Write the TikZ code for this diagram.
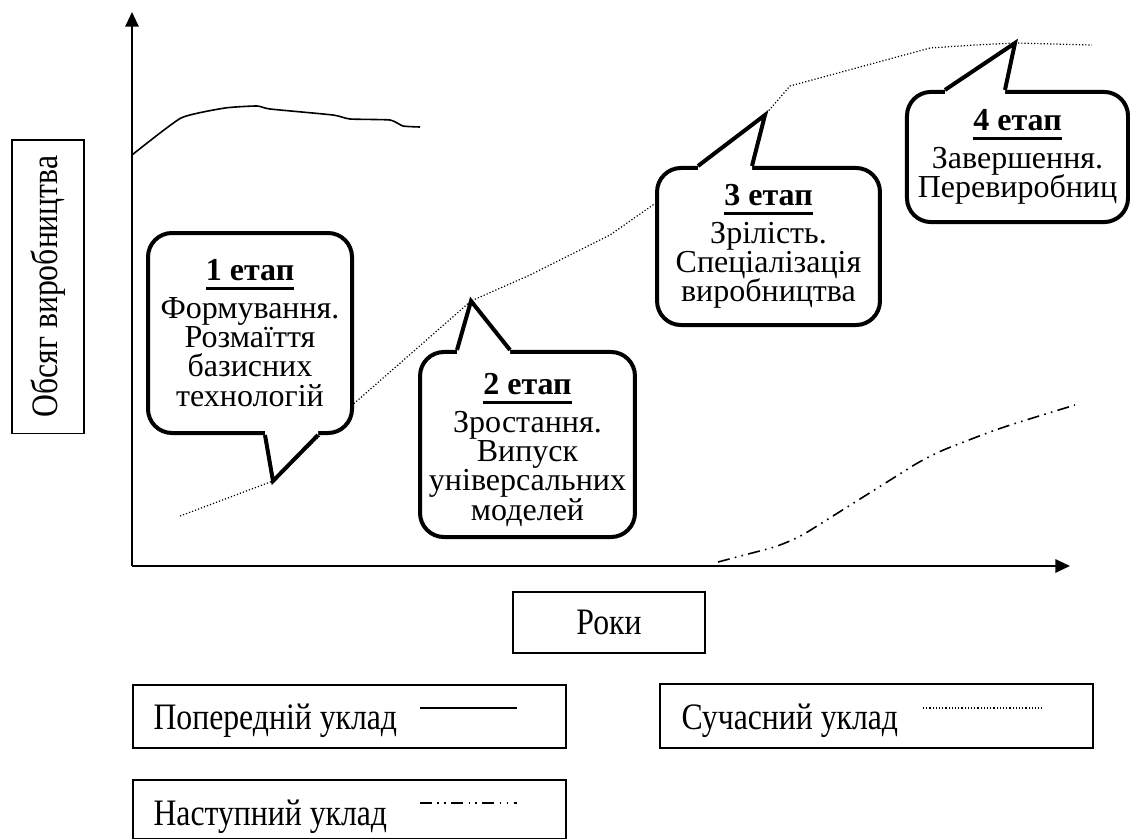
\documentclass[tikz,border=0pt]{standalone}
\usepackage{fontspec}
\setmainfont{Liberation Serif}[FakeStretch=0.85]
\newfontfamily\stagefamily{Liberation Serif}
\usetikzlibrary{arrows.meta,calc}

\newcommand{\etap}[1]{\setbox0=\hbox{\textbf{#1 етап}}\vtop{\copy0\kern2.2pt\hrule height 1.1pt}}
\newcommand{\picfont}{\fontsize{14}{11.6}\selectfont}
\newcommand{\stagefont}{\stagefamily\fontsize{12}{11}\selectfont\lineskiplimit-20pt\relax}

\begin{document}
\begin{tikzpicture}[x=0.375pt,y=-0.375pt,font=\picfont,
  axis/.style={line width=0.75pt,-{Triangle[length=5.5pt,width=5pt]}},
  oldway/.style={line width=0.6pt},
  curway/.style={line width=0.45pt,dash pattern=on 0.45pt off 0.75pt},
  nextway/.style={line width=0.6pt,dash pattern=on 4.5pt off 2pt on 0.6pt off 2pt on 0.6pt off 2pt},
  stage/.style={draw,fill=white,line width=1.5pt,rounded corners=9pt,align=center,inner sep=1pt,font=\stagefont},
  tail/.style={line width=1.5pt,line join=miter},
  legbox/.style={draw,line width=0.5pt},
  legtext/.style={anchor=base west,inner sep=0pt}]

\useasboundingbox (0,0) rectangle (1130,839);

%axes
\coordinate (o) at (132,566);
\draw [axis] (o) -- (132,12);
\draw [axis] (o) -- (1070,566);
\node [legbox, rotate=90, minimum width=110pt, minimum height=27pt] (ylab) at (48,286.5) {Обсяг виробництва};
\node [legbox, minimum width=72pt, minimum height=22.9pt] (roky) at (609,622.5) {Роки};

%stages on the curve
\coordinate (s1) at (273,481);
\coordinate (s2) at (471,301);
\coordinate (s3) at (765,115);
\coordinate (s4) at (1015,43);

%curves
\draw [oldway] plot [smooth, tension=0.3] coordinates {(132,155) (181,118) (225,108) (257,106) (270,109) (333,115) (350,119) (390,120) (403,126) (420,127)};
\draw [curway] (180,516) -- (s1) -- (350,407) -- (s2) -- (530,275) -- (610,235) -- (660,200)
   -- (690,172) -- (s3) -- (790,86) -- (930,48) -- (975,45) -- (s4) -- (1092,45);
\draw [nextway, rounded corners=8pt] (718,562) -- (790,543) -- (930,455) -- (1000,428) -- (1075,405);

%callouts
\node [stage, minimum width=76.5pt, minimum height=75pt] (c1) at (250,333)
   {\etap{1}\\[3pt]Формування.\\Розмаїття\\базисних\\технологій};
\node [stage, minimum width=80.6pt, minimum height=69.4pt] (c2) at (527.5,444.5)
   {\rule{0pt}{12pt}\etap{2}\\[3pt]Зростання.\\Випуск\\універсальних\\моделей};
\node [stage, minimum width=83.6pt, minimum height=58.9pt] (c3) at (768.5,246.5)
   {\etap{3}\\[3pt]Зрілість.\\Спеціалізація\\виробництва};
\node [stage, minimum width=82.9pt, minimum height=48.8pt] (c4) at (1017.5,157)
   {\etap{4}\\[3pt]Завершення.\\Перевиробниц};
\foreach \n/\a/\p/\q/\d/\t in {c1/south/15/68/-6/s1, c2/north/-70.5/-17.5/6/s2,
   c3/north/-70.5/-16.5/6/s3, c4/north/-72.5/-12.5/6/s4}
   {\fill [white] ($(\n.\a)+(\p,\d)$) -- ($(\n.\a)+(\p,0)$) -- (\t) -- ($(\n.\a)+(\q,0)$) -- ($(\n.\a)+(\q,\d)$) -- cycle;
    \draw [tail] ($(\n.\a)+(\p,0)$) -- (\t) -- ($(\n.\a)+(\q,0)$);
   }

%legend
\node [legbox, minimum width=162.4pt, minimum height=23.6pt] (leg1) at (349.5,716.5) {};
\node [legtext] (t1) at (153,729) {Попередній уклад};
\draw [oldway] (420,708) -- (517,708);
\node [legbox, minimum width=162.4pt, minimum height=24pt] (leg2) at (876.5,716) {};
\node [legtext] (t2) at (681,729) {Сучасний уклад};
\draw [curway] (923,708) -- (1042,708);
\node [legbox, minimum width=162.4pt, minimum height=22.1pt] (leg3) at (349.5,809.5) {};
\node [legtext] (t3) at (153,825) {Наступний уклад};
\draw [nextway] (420,803) -- (517,803);

\end{tikzpicture}
\end{document}
